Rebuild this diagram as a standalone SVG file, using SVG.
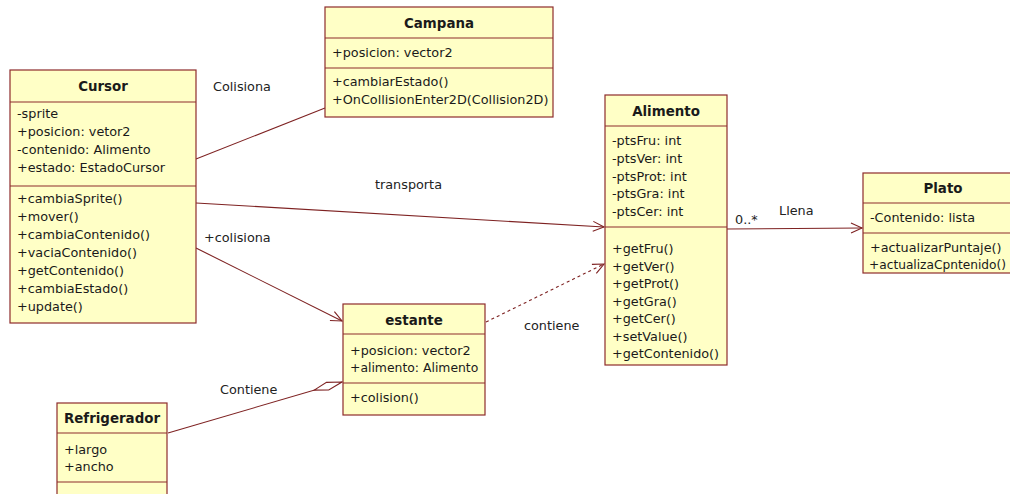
<svg xmlns="http://www.w3.org/2000/svg" width="1010" height="494" viewBox="0 0 1010 494">
<defs>
<style>
.box{fill:#FFFFC6;stroke:#8E2C2C;stroke-width:1.2}
.sep{stroke:#8E2C2C;stroke-width:1.2}
text{font-family:"DejaVu Sans","Liberation Sans",sans-serif;font-size:12.8px;fill:#1a1a1a}
.t{font-weight:bold;text-anchor:middle;font-size:13.4px}
.c{fill:none;stroke:#7E2222;stroke-width:1.1}
.d{stroke-dasharray:3,3}
.lbl{fill:#222}
</style>
<marker id="arr" markerWidth="14" markerHeight="12" refX="12" refY="6" orient="auto" markerUnits="userSpaceOnUse">
<path d="M1,1 L12,6 L1,11" fill="none" stroke="#7E2222" stroke-width="1.1"/>
</marker>
<marker id="dia" markerWidth="32" markerHeight="12" refX="30" refY="6" orient="auto" markerUnits="userSpaceOnUse">
<path d="M1,6 L15,2 L30,6 L15,10 Z" fill="#fff" stroke="#7E2222" stroke-width="1.1"/>
</marker>
</defs>
<rect width="1010" height="494" fill="#fff"/>
<g id="connectors">
<line class="c" x1="196" y1="159" x2="325" y2="108"/>
<line class="c" x1="196" y1="203" x2="604" y2="227" marker-end="url(#arr)"/>
<line class="c" x1="196" y1="248" x2="342" y2="321" marker-end="url(#arr)"/>
<line class="c d" x1="486" y1="322" x2="604" y2="264" marker-end="url(#arr)"/>
<line class="c" x1="727" y1="229" x2="862" y2="228" marker-end="url(#arr)"/>
<line class="c" x1="168" y1="433" x2="342" y2="382" marker-end="url(#dia)"/>
<text class="lbl" x="213" y="91">Colisiona</text>
<text class="lbl" x="375" y="189">transporta</text>
<text class="lbl" x="204" y="242">+colisiona</text>
<text class="lbl" x="524" y="330">contiene</text>
<text class="lbl" x="779" y="215">Llena</text>
<text class="lbl" x="735" y="224">0..*</text>
<text class="lbl" x="220" y="394">Contiene</text>
</g>
<g id="Cursor">
<rect class="box" x="10" y="70" width="186" height="253"/>
<line class="sep" x1="10" y1="102" x2="196" y2="102"/>
<line class="sep" x1="10" y1="186" x2="196" y2="186"/>
<text class="t" x="103" y="91">Cursor</text>
<text x="17" y="118">-sprite</text>
<text x="17" y="136">+posicion: vetor2</text>
<text x="17" y="154">-contenido: Alimento</text>
<text x="17" y="172">+estado: EstadoCursor</text>
<text x="17" y="203">+cambiaSprite()</text>
<text x="17" y="221">+mover()</text>
<text x="17" y="239">+cambiaContenido()</text>
<text x="17" y="257">+vaciaContenido()</text>
<text x="17" y="275">+getContenido()</text>
<text x="17" y="293">+cambiaEstado()</text>
<text x="17" y="311">+update()</text>
</g>
<g id="Campana">
<rect class="box" x="325" y="7" width="228" height="110"/>
<line class="sep" x1="325" y1="38" x2="553" y2="38"/>
<line class="sep" x1="325" y1="68" x2="553" y2="68"/>
<text class="t" x="439" y="28">Campana</text>
<text x="332" y="57">+posicion: vector2</text>
<text x="332" y="86">+cambiarEstado()</text>
<text x="332" y="104">+OnCollisionEnter2D(Collision2D)</text>
</g>
<g id="Alimento">
<rect class="box" x="605" y="95" width="122" height="270"/>
<line class="sep" x1="605" y1="126" x2="727" y2="126"/>
<line class="sep" x1="605" y1="227" x2="727" y2="227"/>
<text class="t" x="666" y="116">Alimento</text>
<text x="612" y="145">-ptsFru: int</text>
<text x="612" y="163">-ptsVer: int</text>
<text x="612" y="181">-ptsProt: int</text>
<text x="612" y="198">-ptsGra: int</text>
<text x="612" y="216">-ptsCer: int</text>
<text x="612" y="253">+getFru()</text>
<text x="612" y="271">+getVer()</text>
<text x="612" y="288">+getProt()</text>
<text x="612" y="306">+getGra()</text>
<text x="612" y="323">+getCer()</text>
<text x="612" y="341">+setValue()</text>
<text x="612" y="358">+getContenido()</text>
</g>
<g id="Plato">
<rect class="box" x="863" y="173" width="160" height="100"/>
<line class="sep" x1="863" y1="203" x2="1023" y2="203"/>
<line class="sep" x1="863" y1="233" x2="1023" y2="233"/>
<text class="t" x="943" y="193">Plato</text>
<text x="870" y="222">-Contenido: lista</text>
<text x="870" y="252">+actualizarPuntaje()</text>
<text x="869" y="269" style="font-size:12.2px">+actualizaCpntenido()</text>
</g>
<g id="estante">
<rect class="box" x="343" y="304" width="142" height="111"/>
<line class="sep" x1="343" y1="334" x2="485" y2="334"/>
<line class="sep" x1="343" y1="383" x2="485" y2="383"/>
<text class="t" x="414" y="325">estante</text>
<text x="350" y="355">+posicion: vector2</text>
<text x="350" y="372" style="font-size:12.4px">+alimento: Alimento</text>
<text x="350" y="402">+colision()</text>
</g>
<g id="Refrigerador">
<rect class="box" x="57" y="403" width="110" height="100"/>
<line class="sep" x1="57" y1="433" x2="167" y2="433"/>
<line class="sep" x1="57" y1="482" x2="167" y2="482"/>
<text class="t" x="112" y="423">Refrigerador</text>
<text x="64" y="454">+largo</text>
<text x="64" y="471">+ancho</text>
</g>
</svg>
